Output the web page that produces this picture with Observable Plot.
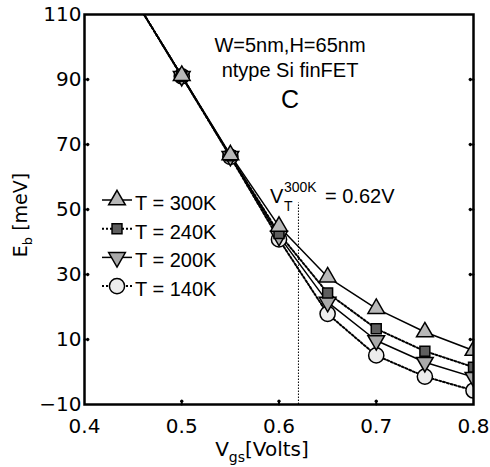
<!DOCTYPE html>
<html><head><meta charset="utf-8">
<script src="https://cdn.jsdelivr.net/npm/d3@7"></script>
<script src="https://cdn.jsdelivr.net/npm/@observablehq/plot@0.6"></script>
<style>body{margin:0;background:#fff}</style>
</head><body><div id="chart"></div>
<script>
// ---- data ----
const vgs = [0.45, 0.5, 0.55, 0.6, 0.65, 0.7, 0.75, 0.8];
const series = ["T = 300K", "T = 240K", "T = 200K", "T = 140K"];
const eb300 = [115.5, 91.2, 66.8, 44.8, 29.2, 19.5, 12.3, 6.6];
const eb240 = [115.5, 91.0, 66.5, 42.6, 24.3, 13.3, 6.4, 1.5];
const eb200 = [115.5, 91.0, 66.4, 41.8, 21.5, 9.7, 3.0, -1.6];
const eb140 = [115.5, 91.0, 66.2, 40.8, 17.9, 5.1, -1.4, -5.7];
const xTicks = [0.4, 0.5, 0.6, 0.7, 0.8];
const yTicks = [-10, 10, 30, 50, 70, 90, 110];
const vT = [0.62];
const vTLineTop = [52];

const values = [eb300, eb240, eb200, eb140];
const rows = series.flatMap((s, i) => vgs.map((v, j) => ({T: s, vgs: v, eb: values[i][j]})));

// ---- styles ----
const triangleDown = {
  draw(context, size) {
    const y = -Math.sqrt(size / (Math.sqrt(3) * 3));
    context.moveTo(0, -y * 2);
    context.lineTo(-Math.sqrt(3) * y, y);
    context.lineTo(Math.sqrt(3) * y, y);
    context.closePath();
  }
};
const style = {
  "T = 300K": {symbol: d3.symbolTriangle, r: 6.2, fill: "#b8b8b8", dash: null, sw: 1.5},
  "T = 240K": {symbol: d3.symbolSquare, r: 5.6, fill: "#5e5e5e", dash: "2,2", sw: 2},
  "T = 200K": {symbol: triangleDown, r: 6.2, fill: "#a9a9a9", dash: null, sw: 1.5},
  "T = 140K": {symbol: d3.symbolCircle, r: 7.6, fill: "#ececec", dash: "2,2", sw: 2}
};

const drawOrder = series.slice().reverse();
const lineMarks = drawOrder.map(s => Plot.line(rows.filter(d => d.T === s), {
  x: "vgs", y: "eb", stroke: "black", strokeWidth: style[s].sw,
  strokeDasharray: style[s].dash, clip: true
}));
const dotMarks = drawOrder.map(s => Plot.dot(rows.filter(d => d.T === s), {
  x: "vgs", y: "eb", symbol: () => style[s].symbol, r: style[s].r,
  fill: style[s].fill, stroke: "black", strokeWidth: 1.5, clip: true
}));

function annotations(index, scales, vals, dim) {
  const g = d3.create("svg:g").attr("font-family", "Liberation Sans, Arial, sans-serif")
    .attr("fill", "black").attr("text-anchor", "start");
  g.append("text").attr("x", 290).attr("y", 52).attr("text-anchor", "middle").attr("font-size", 20).text("W=5nm,H=65nm");
  g.append("text").attr("x", 290).attr("y", 77).attr("text-anchor", "middle").attr("font-size", 20).text("ntype Si finFET");
  g.append("text").attr("x", 290).attr("y", 108).attr("text-anchor", "middle").attr("font-size", 25).text("C");
  // V_T^{300K} = 0.62V
  g.append("text").attr("x", 270).attr("y", 203).attr("font-size", 20).text("V");
  g.append("text").attr("x", 284).attr("y", 192).attr("font-size", 14).text("300K");
  g.append("text").attr("x", 284).attr("y", 211).attr("font-size", 14).text("T");
  g.append("text").attr("x", 325).attr("y", 203).attr("font-size", 20).text("= 0.62V");
  // legend
  series.forEach((s, i) => {
    const cy = 200 + i * 28.7;
    g.append("line").attr("x1", 102).attr("x2", 132).attr("y1", cy).attr("y2", cy)
      .attr("stroke", "black").attr("stroke-width", style[s].sw).attr("stroke-dasharray", style[s].dash);
    g.append("path").attr("transform", `translate(117,${cy})`)
      .attr("d", d3.symbol(style[s].symbol, Math.PI * style[s].r * style[s].r)())
      .attr("fill", style[s].fill).attr("stroke", "black").attr("stroke-width", 1.5);
    g.append("text").attr("x", 135).attr("y", cy + 10).attr("font-size", 20).text(s);
  });
  // axis labels
  const yl = g.append("text").attr("transform", "translate(27,215) rotate(-90)")
    .attr("text-anchor", "middle").attr("font-family", "DejaVu Sans, sans-serif").attr("font-size", 19);
  yl.append("tspan").text("E");
  yl.append("tspan").attr("font-size", 13).attr("dy", 5).text("b");
  yl.append("tspan").attr("dy", -5).text(" [meV]");
  const xl = g.append("text").attr("x", 262).attr("y", 456)
    .attr("text-anchor", "middle").attr("font-family", "DejaVu Sans, sans-serif").attr("font-size", 20);
  xl.append("tspan").text("V");
  xl.append("tspan").attr("font-size", 14).attr("dy", 6).text("gs");
  xl.append("tspan").attr("dy", -6).text("[Volts]");
  return g.node();
}

const chart = Plot.plot({
  width: 490, height: 467,
  marginLeft: 84, marginRight: 17, marginTop: 14, marginBottom: 63,
  style: {fontFamily: "DejaVu Sans, sans-serif", background: "white", color: "black", overflow: "visible"},
  x: {domain: [0.4, 0.8]},
  y: {domain: [-10, 110]},
  marks: [
    Plot.ruleX(vT, {y1: -10, y2: vTLineTop[0], stroke: "black", strokeWidth: 1, strokeDasharray: "1.5,1.5"}),
    ...lineMarks,
    ...dotMarks,
    Plot.vectorX(xTicks.slice(1, -1), {x: d => d, frameAnchor: "bottom", length: 4, anchor: "start", rotate: 0, stroke: "black", strokeWidth: 2}),
    Plot.vectorY(yTicks.slice(1, -1), {y: d => d, frameAnchor: "left", length: 4, anchor: "start", rotate: 90, stroke: "black", strokeWidth: 2}),
    Plot.vectorY(yTicks.slice(1, -1), {y: d => d, frameAnchor: "right", length: 4, anchor: "start", rotate: -90, stroke: "black", strokeWidth: 2}),
    Plot.axisX(xTicks, {tickSize: 0, tickPadding: 14, fontSize: 20, tickFormat: d3.format(".1f"), label: null}),
    Plot.axisY(yTicks, {tickSize: 0, tickPadding: 3, fontSize: 20, label: null}),
    Plot.frame({stroke: "black", strokeWidth: 2.5}),
    annotations
  ]
});
document.getElementById("chart").appendChild(chart);
</script>
</body></html>
